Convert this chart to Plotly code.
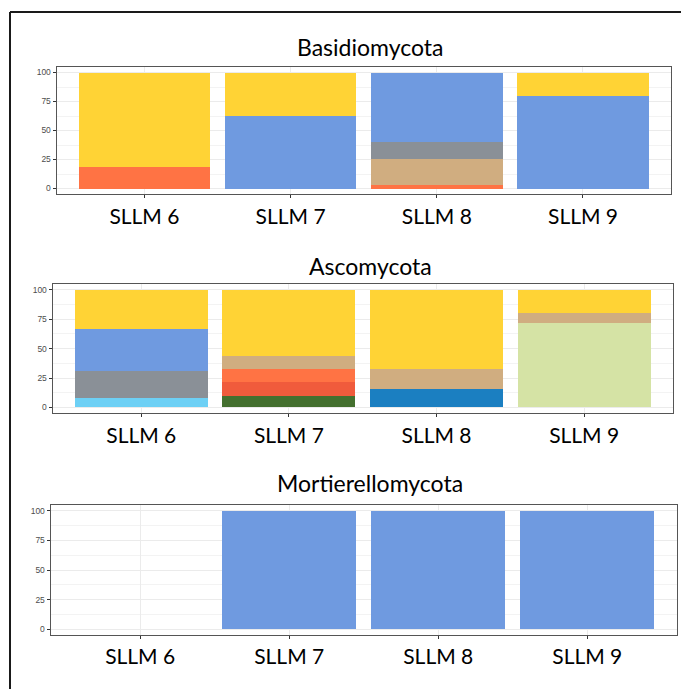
import plotly.graph_objects as go

W, H = 681, 689

samples = ["SLLM 6", "SLLM 7", "SLLM 8", "SLLM 9"]
y_ticks = [0, 25, 50, 75, 100]

# Relative abundance (%) per taxon, listed bottom-to-top of each stack
basidio_taxa = ["Taxon B1", "Taxon B2", "Taxon B3", "Taxon B4", "Taxon B5"]
basidio_values = [
    [18.2, 0.0, 3.2, 0.0],
    [0.0, 0.0, 22.4, 0.0],
    [0.0, 0.0, 14.7, 0.0],
    [0.0, 62.2, 59.7, 80.1],
    [81.8, 37.8, 0.0, 19.9],
]
basidio_colors = ["#FF7344", "#D0AD80", "#8A9097", "#6F9AE0", "#FFD335"]

asco_taxa = ["Taxon A1", "Taxon A2", "Taxon A3", "Taxon A4", "Taxon A5",
             "Taxon A6", "Taxon A7", "Taxon A8", "Taxon A9", "Taxon A10"]
asco_values = [
    [0.0, 0.0, 0.0, 71.9],
    [0.0, 0.0, 15.4, 0.0],
    [0.0, 9.6, 0.0, 0.0],
    [0.0, 11.7, 0.0, 0.0],
    [0.0, 11.6, 0.0, 0.0],
    [7.9, 0.0, 0.0, 0.0],
    [22.7, 0.0, 0.0, 0.0],
    [36.0, 0.0, 0.0, 0.0],
    [0.0, 10.9, 17.2, 8.4],
    [33.4, 56.2, 67.4, 19.7],
]
asco_colors = ["#D5E3A5", "#1B7FC1", "#44702F", "#F05B3C", "#FF7344",
               "#6DD0F5", "#8A9097", "#6F9AE0", "#D0AD80", "#FFD335"]

mort_taxa = ["Taxon M1"]
mort_values = [[0.0, 100.0, 100.0, 100.0]]
mort_colors = ["#6F9AE0"]

panels = [
    ("Basidiomycota", basidio_taxa, basidio_values, basidio_colors),
    ("Ascomycota", asco_taxa, asco_values, asco_colors),
    ("Mortierellomycota", mort_taxa, mort_values, mort_colors),
]

# Panel boxes in pixels: (left, right, top, bottom), title centre y
boxes = [
    (56.7, 670.7, 66.7, 194.3, 46.7),
    (52.7, 672.7, 284.0, 413.3, 266.0),
    (50.7, 676.7, 505.0, 635.0, 483.0),
]

fig = go.Figure()
annotations = []
for i, ((title, taxa, values, colors), (l, r, t, b, ty)) in enumerate(zip(panels, boxes)):
    n = "" if i == 0 else str(i + 1)
    for name, vals, col in zip(taxa, values, colors):
        fig.add_trace(go.Bar(
            x=samples, y=vals, name=name, marker=dict(color=col, line=dict(width=0)),
            xaxis="x" + n, yaxis="y" + n, showlegend=False, width=0.9,
        ))
    common = dict(
        showline=True, mirror=True, linecolor="#555555", linewidth=1.3,
        ticks="outside", ticklen=3, tickcolor="#333333", tickwidth=1,
        zeroline=False,
    )
    fig.layout["xaxis" + n] = dict(
        domain=[l / W, r / W], anchor="y" + n,
        type="category", categoryorder="array", categoryarray=samples,
        range=[-0.6, 3.6], showgrid=True, gridcolor="#EBEBEB", gridwidth=1,
        tickfont=dict(family="Lato", size=21, color="#000000"),
        **common,
    )
    fig.layout["yaxis" + n] = dict(
        domain=[1 - b / H, 1 - t / H], anchor="x" + n,
        range=[-5, 105], tickvals=y_ticks, ticktext=[str(v) for v in y_ticks],
        showgrid=True, gridcolor="#EBEBEB", gridwidth=1,
        minor=dict(tickvals=[12.5, 37.5, 62.5, 87.5], showgrid=True,
                   gridcolor="#F3F3F3", gridwidth=0.6, ticks=""),
        tickfont=dict(family="Liberation Sans", size=8.5, color="#4D4D4D"),
        **common,
    )
    annotations.append(dict(
        text=title, x=370 / W, y=1 - ty / H, xref="paper", yref="paper",
        xanchor="center", yanchor="middle", showarrow=False,
        font=dict(family="Lato", size=23, color="#000000"),
    ))

fig.update_layout(
    width=W, height=H, margin=dict(l=0, r=0, t=0, b=0),
    paper_bgcolor="#FFFFFF", plot_bgcolor="#FFFFFF",
    barmode="stack", bargap=0.1,
    annotations=annotations,
    shapes=[
        dict(type="line", xref="paper", yref="paper", x0=10 / W, x1=1.02,
             y0=1 - 12 / H, y1=1 - 12 / H, line=dict(color="#1A1A1A", width=2)),
        dict(type="line", xref="paper", yref="paper", x0=10 / W, x1=10 / W,
             y0=1 - 12 / H, y1=-0.02, line=dict(color="#1A1A1A", width=2)),
    ],
)

fig.write_html("out.html")
